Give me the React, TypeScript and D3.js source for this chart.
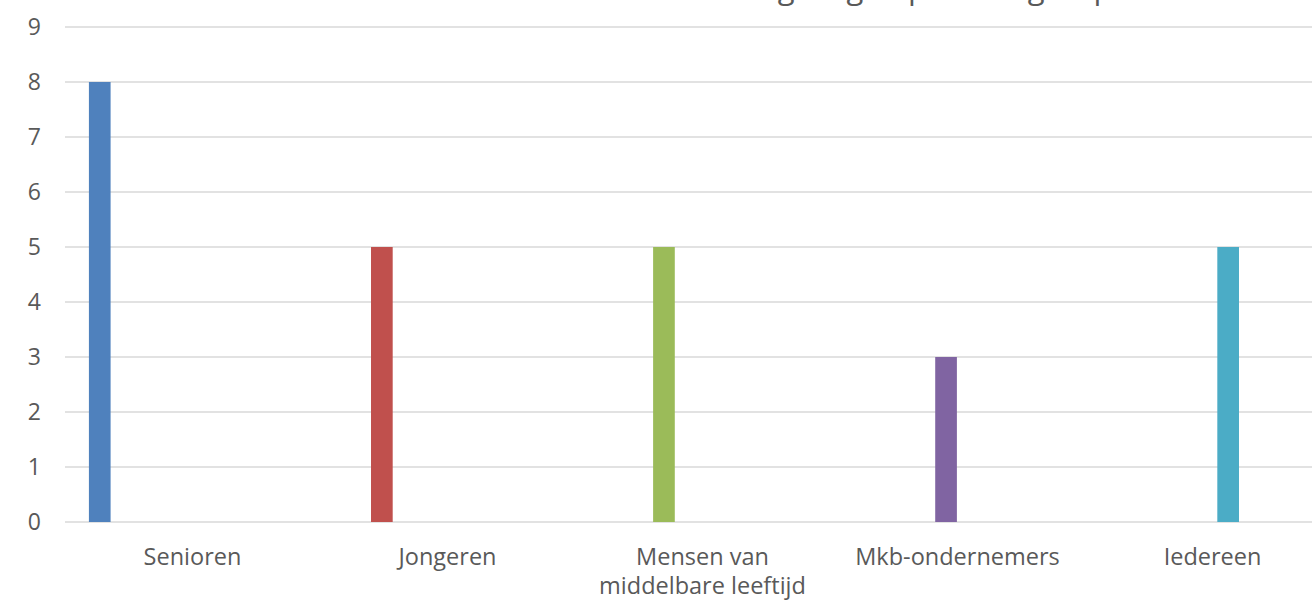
import React from "react";
import * as d3 from "d3";

const categories: string[][] = [
  ["Senioren"],
  ["Jongeren"],
  ["Mensen van", "middelbare leeftijd"],
  ["Mkb-ondernemers"],
  ["Iedereen"],
];
const seriesKeys = ["Senioren", "Jongeren", "Middelbare leeftijd", "Mkb", "Iedereen"];
const values = [8, 5, 5, 3, 5];
const colors = ["#4F81BD", "#C0504D", "#9BBB59", "#8064A2", "#4BACC6"];
const yTicks = [0, 1, 2, 3, 4, 5, 6, 7, 8, 9];
const title = "Aantal regelingen per doelgroep";

const W = 1312;
const H = 601;
const left = 65;
const catWidth = 255;
const yBottom = 522;
const yTop = 27;

export default function App() {
  const keys = categories.map((c) => c.join(" "));
  const x0 = d3
    .scaleBand<string>()
    .domain(keys)
    .range([left, left + catWidth * keys.length])
    .padding(0);
  const x1 = d3
    .scaleBand<string>()
    .domain(seriesKeys)
    .range([21.2, 21.2 + 5 * 27.1])
    .paddingInner(0.2)
    .paddingOuter(0.1);
  const y = d3.scaleLinear().domain([0, 9]).range([yBottom, yTop]);
  const font = "'Open Sans', sans-serif";
  const grey = "#595959";

  return (
    <svg
      width={W}
      height={H}
      style={{ position: "absolute", left: 0, top: 0, background: "#fff" }}
    >
      <rect x={0} y={0} width={W} height={H} fill="#fff" />
      <text
        x={880}
        y={-1}
        textAnchor="middle"
        fontFamily={font}
        fontSize={31}
        fill={grey}
      >
        {title}
      </text>
      {yTicks.map((t) => (
        <g key={t}>
          <line
            x1={left}
            x2={W}
            y1={y(t)}
            y2={y(t)}
            stroke="#D9D9D9"
            strokeWidth={1.5}
          />
          <text
            x={41}
            y={y(t)}
            dy="0.36em"
            textAnchor="end"
            fontFamily={font}
            fontSize={23}
            fill={grey}
          >
            {t}
          </text>
        </g>
      ))}
      {keys.map((k, i) => {
        const s = seriesKeys[i];
        const bx = (x0(k) ?? 0) + (x1(s) ?? 0);
        return (
          <rect
            key={k}
            x={bx}
            y={y(values[i])}
            width={x1.bandwidth()}
            height={y(0) - y(values[i])}
            fill={colors[i]}
          />
        );
      })}
      {categories.map((lines, i) => {
        const cx = (x0(keys[i]) ?? 0) + x0.bandwidth() / 2;
        return (
          <text
            key={i}
            x={cx}
            textAnchor="middle"
            fontFamily={font}
            fontSize={23.5}
            fill={grey}
          >
            {lines.map((ln, j) => (
              <tspan key={j} x={cx} y={565 + j * 29}>
                {ln}
              </tspan>
            ))}
          </text>
        );
      })}
    </svg>
  );
}
